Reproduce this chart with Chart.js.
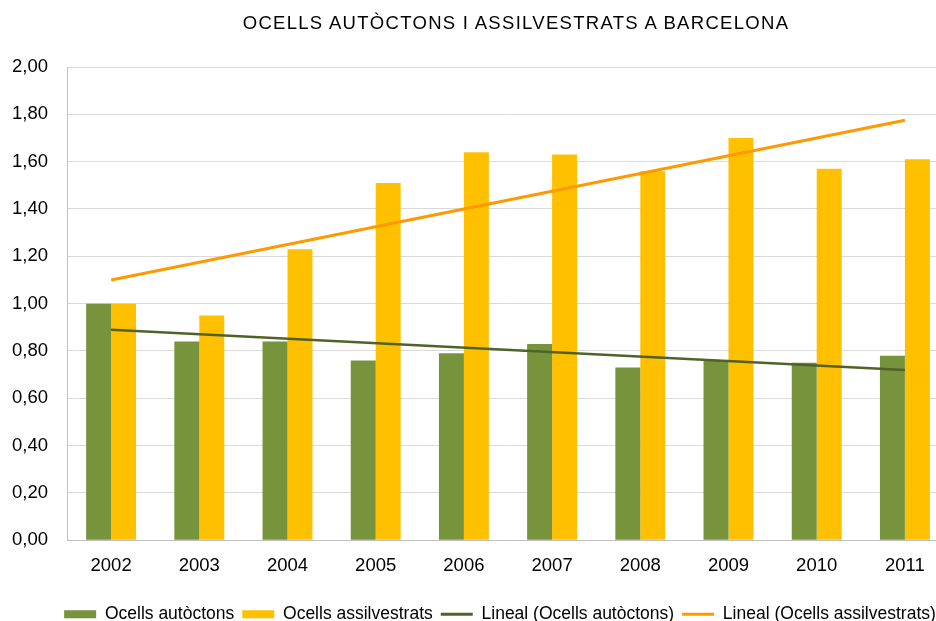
<!DOCTYPE html>
<html>
<head>
<meta charset="utf-8">
<script src="https://cdn.jsdelivr.net/npm/chart.js@4/dist/chart.umd.min.js"></script>
<style>
  html, body { margin: 0; padding: 0; overflow: hidden; background: #fff; }
  #wrap { position: relative; width: 960px; height: 633px; }
  #title {
    position: absolute; left: 0; top: 12px; width: 1032px;
    text-align: center; font: 18.5px "Liberation Sans", Arial, sans-serif;
    letter-spacing: 1.3px; color: #000; line-height: 22px;
  }
</style>
</head>
<body>
<div id="wrap">
  <canvas id="chart"></canvas>
  <div id="title">OCELLS AUTÒCTONS I ASSILVESTRATS A BARCELONA</div>
</div>
<script>
// Anys
const years = ["2002", "2003", "2004", "2005", "2006", "2007", "2008", "2009", "2010", "2011"];

// Índexs llegits del gràfic
const autoctons = [1.00, 0.84, 0.84, 0.76, 0.79, 0.83, 0.73, 0.76, 0.75, 0.78];
const assilvestrats = [1.00, 0.95, 1.23, 1.51, 1.64, 1.63, 1.56, 1.70, 1.57, 1.61];

// Línies de tendència: només els extrems (2002 i 2011)
const trendAutoctons = [0.89, null, null, null, null, null, null, null, null, 0.72];
const trendAssilvestrats = [1.10, null, null, null, null, null, null, null, null, 1.775];

const FONT = "'Liberation Sans', Arial, sans-serif";

// la llegenda del gràfic original no està centrada sota l'eix
const legendShift = {
  id: "legendShift",
  afterLayout(chart) {
    chart.legend.left = 51;
    chart.legend.right = 949;
  },
};

const ctx = document.getElementById("chart");
new Chart(ctx, {
  data: {
    labels: years,
    datasets: [
      {
        type: "bar",
        label: "Ocells autòctons",
        data: autoctons,
        backgroundColor: "#77933C",
        categoryPercentage: 0.566,
        barPercentage: 1,
        order: 2,
      },
      {
        type: "bar",
        label: "Ocells assilvestrats",
        data: assilvestrats,
        backgroundColor: "#FFC000",
        categoryPercentage: 0.566,
        barPercentage: 1,
        order: 2,
      },
      {
        type: "line",
        label: "Lineal (Ocells autòctons)",
        data: trendAutoctons,
        borderColor: "#4F6228",
        backgroundColor: "#4F6228",
        borderWidth: 2.5,
        pointRadius: 0,
        spanGaps: true,
        order: 1,
      },
      {
        type: "line",
        label: "Lineal (Ocells assilvestrats)",
        data: trendAssilvestrats,
        borderColor: "#FF9900",
        backgroundColor: "#FF9900",
        borderWidth: 3,
        pointRadius: 0,
        spanGaps: true,
        order: 0,
      },
    ],
  },
  plugins: [legendShift],
  options: {
    responsive: true,
    maintainAspectRatio: false,
    animation: false,
    events: [],
    layout: { padding: { left: 11, right: 11, top: 67, bottom: 0 } },
    scales: {
      x: {
        afterFit: (axis) => { axis.height += 5; },
        grid: { display: false, drawTicks: false },
        border: { color: "#BFBFBF", width: 1 },
        ticks: { color: "#000", font: { family: FONT, size: 18.5 }, padding: 15 },
      },
      y: {
        min: 0,
        max: 2,
        afterFit: (axis) => { axis.width = 56; },
        grid: { color: "#D9D9D9", drawTicks: false },
        border: { color: "#BFBFBF", width: 1 },
        ticks: {
          stepSize: 0.2,
          color: "#000",
          font: { family: FONT, size: 18.5 },
          padding: 19,
          callback: (v) => v.toFixed(2).replace(".", ","),
        },
      },
    },
    plugins: {
      title: { display: false },
      legend: {
        position: "bottom",
        labels: {
          color: "#000",
          font: { family: FONT, size: 17.5 },
          usePointStyle: true,
          pointStyleWidth: 32,
          boxHeight: 8,
          padding: 8,
          sort: (a, b) => a.datasetIndex - b.datasetIndex,
          generateLabels: (chart) =>
            chart.data.datasets.map((ds, i) => ({
              text: ds.label,
              datasetIndex: i,
              fillStyle: ds.backgroundColor,
              strokeStyle: ds.borderColor || ds.backgroundColor,
              lineWidth: ds.type === "line" ? 3 : 0,
              pointStyle: ds.type === "line" ? "line" : "rect",
              fontColor: "#000",
              hidden: false,
            })),
        },
      },
      tooltip: { enabled: false },
    },
  },
});
</script>
</body>
</html>
